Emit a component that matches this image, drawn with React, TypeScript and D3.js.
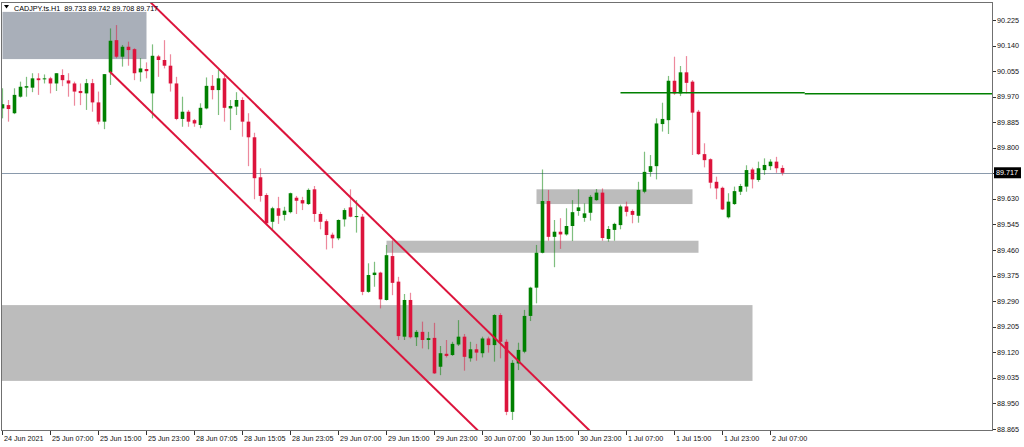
import React from "react";
import * as d3 from "d3";

// CADJPY H1 candles, bar 0 = 24 Jun 2021 23:00
const opens = [
  89.931, 89.942, 89.915, 89.97, 90.0, 90.0, 90.031, 90.028, 90.031, 90.014,
  90.042, 90.024, 90.014, 89.989, 89.981, 90.015, 89.951, 89.887, 90.051, 90.158,
  90.103, 90.136, 90.128, 90.051, 90.062, 89.981, 90.104, 90.092, 90.073, 90.014,
  89.896, 89.92, 89.892, 89.876, 89.931, 90.006, 89.992, 90.031, 89.931, 89.937,
  89.959, 89.887, 89.835, 89.702, 89.643, 89.554, 89.599, 89.577, 89.586, 89.634,
  89.626, 89.613, 89.662, 89.58, 89.556, 89.511, 89.499, 89.562, 89.602, 89.571,
  89.571, 89.321, 89.377, 89.385, 89.294, 89.44, 89.355, 89.172, 89.294, 89.17,
  89.188, 89.161, 89.168, 89.072, 89.115, 89.111, 89.146, 89.172, 89.1, 89.13,
  89.117, 89.166, 89.144, 89.244, 89.155, 88.922, 89.083, 89.122, 89.241, 89.335,
  89.451, 89.623, 89.504, 89.521, 89.512, 89.54, 89.59, 89.567, 89.584, 89.626,
  89.651, 89.497, 89.527, 89.543, 89.605, 89.59, 89.574, 89.654, 89.72, 89.739,
  89.879, 89.892, 90.023, 89.981, 90.051, 90.02, 89.92, 89.779, 89.762, 89.687,
  89.667, 89.569, 89.613, 89.654, 89.671, 89.728, 89.693, 89.726, 89.739, 89.754,
  89.733,
];
const highs = [
  89.998, 89.959, 89.998, 90.02, 90.036, 90.048, 90.048, 90.044, 90.036, 90.048,
  90.061, 90.048, 90.02, 90.014, 90.029, 90.029, 89.987, 90.045, 90.197, 90.208,
  90.142, 90.153, 90.131, 90.098, 90.084, 90.144, 90.109, 90.158, 90.111, 90.036,
  89.97, 89.926, 89.896, 89.948, 90.034, 90.042, 90.059, 90.042, 89.959, 89.985,
  89.968, 89.915, 89.85, 89.732, 89.649, 89.604, 89.637, 89.604, 89.651, 89.64,
  89.637, 89.665, 89.673, 89.587, 89.562, 89.518, 89.562, 89.599, 89.662, 89.626,
  89.58, 89.416, 89.421, 89.388, 89.477, 89.493, 89.371, 89.314, 89.318, 89.194,
  89.222, 89.188, 89.218, 89.141, 89.161, 89.155, 89.227, 89.181, 89.155, 89.148,
  89.172, 89.172, 89.247, 89.25, 89.163, 89.094, 89.152, 89.261, 89.338, 89.477,
  89.728, 89.66, 89.56, 89.566, 89.599, 89.626, 89.662, 89.615, 89.643, 89.663,
  89.665, 89.54, 89.551, 89.611, 89.621, 89.595, 89.687, 89.787, 89.776, 89.898,
  89.95, 90.039, 90.103, 90.072, 90.105, 90.025, 89.926, 89.815, 89.765, 89.704,
  89.671, 89.649, 89.671, 89.68, 89.742, 89.734, 89.754, 89.765, 89.762, 89.77,
  89.742,
];
const lows = [
  89.898, 89.887, 89.912, 89.967, 89.97, 89.985, 89.976, 90.014, 89.981, 89.989,
  90.005, 89.97, 89.94, 89.942, 89.926, 89.92, 89.878, 89.862, 90.009, 90.098,
  90.07, 90.073, 90.025, 90.02, 90.031, 89.898, 90.036, 90.064, 89.987, 89.892,
  89.87, 89.87, 89.87, 89.865, 89.928, 89.961, 89.909, 89.887, 89.859, 89.909,
  89.837, 89.739, 89.629, 89.621, 89.547, 89.527, 89.547, 89.558, 89.582, 89.58,
  89.593, 89.61, 89.554, 89.529, 89.462, 89.466, 89.493, 89.538, 89.569, 89.518,
  89.31, 89.318, 89.338, 89.266, 89.292, 89.31, 89.161, 89.161, 89.166, 89.141,
  89.133, 89.13, 89.048, 89.044, 89.103, 89.108, 89.141, 89.059, 89.089, 89.092,
  89.103, 89.119, 89.089, 89.1, 88.911, 88.895, 89.061, 89.117, 89.224, 89.283,
  89.449, 89.491, 89.403, 89.464, 89.508, 89.49, 89.574, 89.554, 89.558, 89.624,
  89.491, 89.488, 89.491, 89.529, 89.572, 89.549, 89.551, 89.649, 89.704, 89.695,
  89.854, 89.846, 89.976, 89.972, 89.981, 89.776, 89.776, 89.735, 89.665, 89.629,
  89.593, 89.565, 89.61, 89.643, 89.654, 89.665, 89.687, 89.71, 89.726, 89.717,
  89.708,
];
const closes = [
  89.945, 89.929, 89.976, 90.003, 90.005, 90.031, 90.025, 90.031, 90.014, 90.048,
  90.025, 90.014, 89.987, 89.982, 90.015, 89.951, 89.887, 90.045, 90.156, 90.103,
  90.136, 90.125, 90.048, 90.064, 90.055, 90.106, 90.092, 90.073, 90.014, 89.896,
  89.92, 89.887, 89.881, 89.933, 90.006, 89.992, 90.031, 89.933, 89.939, 89.959,
  89.887, 89.835, 89.699, 89.64, 89.549, 89.599, 89.574, 89.591, 89.649, 89.624,
  89.615, 89.66, 89.58, 89.554, 89.51, 89.499, 89.56, 89.593, 89.571, 89.573,
  89.321, 89.377, 89.385, 89.296, 89.443, 89.351, 89.174, 89.294, 89.17, 89.188,
  89.161, 89.167, 89.05, 89.117, 89.108, 89.148, 89.172, 89.105, 89.13, 89.119,
  89.166, 89.144, 89.244, 89.155, 88.922, 89.085, 89.128, 89.241, 89.335, 89.451,
  89.623, 89.504, 89.521, 89.512, 89.54, 89.586, 89.602, 89.582, 89.637, 89.651,
  89.5, 89.53, 89.547, 89.605, 89.587, 89.577, 89.66, 89.72, 89.739, 89.881,
  89.896, 90.023, 89.981, 90.051, 90.016, 89.917, 89.779, 89.759, 89.684, 89.665,
  89.595, 89.621, 89.656, 89.673, 89.726, 89.695, 89.732, 89.743, 89.754, 89.732,
  89.717,
];

const priceTicks = [
  90.225, 90.14, 90.055, 89.97, 89.885, 89.8, 89.717, 89.63, 89.545, 89.46,
  89.375, 89.29, 89.205, 89.12, 89.035, 88.95, 88.865,
];
const timeLabels = [
  "24 Jun 2021", "25 Jun 07:00", "25 Jun 15:00", "25 Jun 23:00", "28 Jun 07:05",
  "28 Jun 15:05", "28 Jun 23:05", "29 Jun 07:00", "29 Jun 15:00", "29 Jun 23:00",
  "30 Jun 07:00", "30 Jun 15:00", "30 Jun 23:00", "1 Jul 07:00", "1 Jul 15:00",
  "1 Jul 23:00", "2 Jul 07:00",
];
const labelEvery = 8;

// zones: [fromBar, toBar, topPrice, bottomPrice]
const zones: [number, number, number, number, string][] = [
  [0, 24, 90.252, 90.095, "#a9afb9"],
  [-2, 125, 89.277, 89.025, "#bcbcbc"],
  [64, 116, 89.491, 89.451, "#bcbcbc"],
  [89, 115, 89.662, 89.613, "#bcbcbc"],
];
// channel lines: [bar, price] pairs
const channelUpper: [number, number][] = [[24.5, 90.287], [100, 88.818]];
const channelLower: [number, number][] = [[17.9, 90.053], [80, 88.845]];
const levelLines: [number, number, number][] = [
  [103, 133.7, 89.983],
  [133.7, 170, 89.98],
];
const bidPrice = 89.717;

const W = 1024;
const H = 447;
const plot = { left: 1, right: 993, top: 2, bottom: 431 };
const bull = "#008000";
const bear = "#dc143c";
const font = "'Liberation Sans', Arial, sans-serif";

export default function App() {
  const x = d3.scaleLinear().domain([0, 130]).range([2.5, 782.5]);
  const y = d3.scaleLinear().domain([90.225, 88.865]).range([20, 429]);
  const line = d3
    .line<[number, number]>()
    .x((d) => x(d[0]))
    .y((d) => y(d[1]));
  const bodyW = 3.6;
  const last = closes.length - 1;
  const header = `CADJPY.ts.H1  ${opens[last].toFixed(3)} ${highs[last].toFixed(3)} ${lows[last].toFixed(3)} ${closes[last].toFixed(3)}`;

  return (
    <svg
      width={W}
      height={H}
      style={{ position: "absolute", left: 0, top: 0, background: "#fff" }}
      fontFamily={font}
    >
      <defs>
        <clipPath id="plot">
          <rect
            x={plot.left}
            y={plot.top}
            width={plot.right - plot.left}
            height={plot.bottom - plot.top}
          />
        </clipPath>
      </defs>
      <rect width={W} height={H} fill="#fff" />

      <g clipPath="url(#plot)">
        {zones.map(([a, b, t, btm, c], k) => (
          <rect
            key={k}
            x={x(a)}
            y={y(t)}
            width={x(b) - x(a)}
            height={y(btm) - y(t)}
            fill={c}
          />
        ))}
        <line
          x1={plot.left}
          x2={plot.right}
          y1={Math.round(y(bidPrice)) + 0.5}
          y2={Math.round(y(bidPrice)) + 0.5}
          stroke="#8a9aac"
          strokeWidth={1}
        />
        {closes.map((c, i) => {
          const o = opens[i];
          const up = c >= o;
          const col = up ? bull : bear;
          const top = y(Math.max(o, c));
          const h = Math.max(1, Math.abs(y(o) - y(c)));
          return (
            <g key={i}>
              <line
                x1={x(i)}
                x2={x(i)}
                y1={y(highs[i])}
                y2={y(lows[i])}
                stroke={col}
                strokeOpacity={0.5}
                strokeWidth={1.2}
              />
              <rect x={x(i) - bodyW / 2} y={top} width={bodyW} height={h} fill={col} />
            </g>
          );
        })}
        <path d={line(channelUpper) ?? ""} stroke={bear} strokeWidth={2} fill="none" />
        <path d={line(channelLower) ?? ""} stroke={bear} strokeWidth={2} fill="none" />
        {levelLines.map(([a, b, p], k) => (
          <line
            key={k}
            x1={x(a)}
            x2={x(b)}
            y1={y(p)}
            y2={y(p)}
            stroke={bull}
            strokeWidth={1.6}
          />
        ))}
      </g>

      <rect
        x={plot.left + 0.5}
        y={plot.top + 0.5}
        width={plot.right - plot.left - 1}
        height={plot.bottom - plot.top - 1}
        fill="none"
        stroke="#707070"
        strokeWidth={1}
      />

      {/* header */}
      <path d="M4,5 L9,5 L6.5,8.5 Z" fill="#000" />
      <text x={14} y={10.5} fontSize={7.2} fill="#000" style={{ whiteSpace: "pre" }}>
        {header}
      </text>

      {/* price axis */}
      {priceTicks.map((p) => (
        <g key={p}>
          <line
            x1={plot.right}
            x2={plot.right + 3}
            y1={Math.round(y(p)) + 0.5}
            y2={Math.round(y(p)) + 0.5}
            stroke="#333"
          />
          <text x={997} y={y(p) + 2.5} fontSize={7.2} fill="#111">
            {p.toFixed(3)}
          </text>
        </g>
      ))}
      <rect x={994} y={y(bidPrice) - 5.5} width={27} height={11} fill="#000" />
      <text x={996} y={y(bidPrice) + 2.6} fontSize={7.2} fill="#fff">
        {bidPrice.toFixed(3)}
      </text>

      {/* time axis */}
      {timeLabels.map((t, k) => {
        const tx = Math.round(x(k * labelEvery)) - 0.5;
        return (
          <g key={t}>
            <line x1={tx} x2={tx} y1={plot.bottom} y2={plot.bottom + 4} stroke="#333" />
            <text x={tx + 1.5} y={441} fontSize={7.2} fill="#111">
              {t}
            </text>
          </g>
        );
      })}
    </svg>
  );
}
